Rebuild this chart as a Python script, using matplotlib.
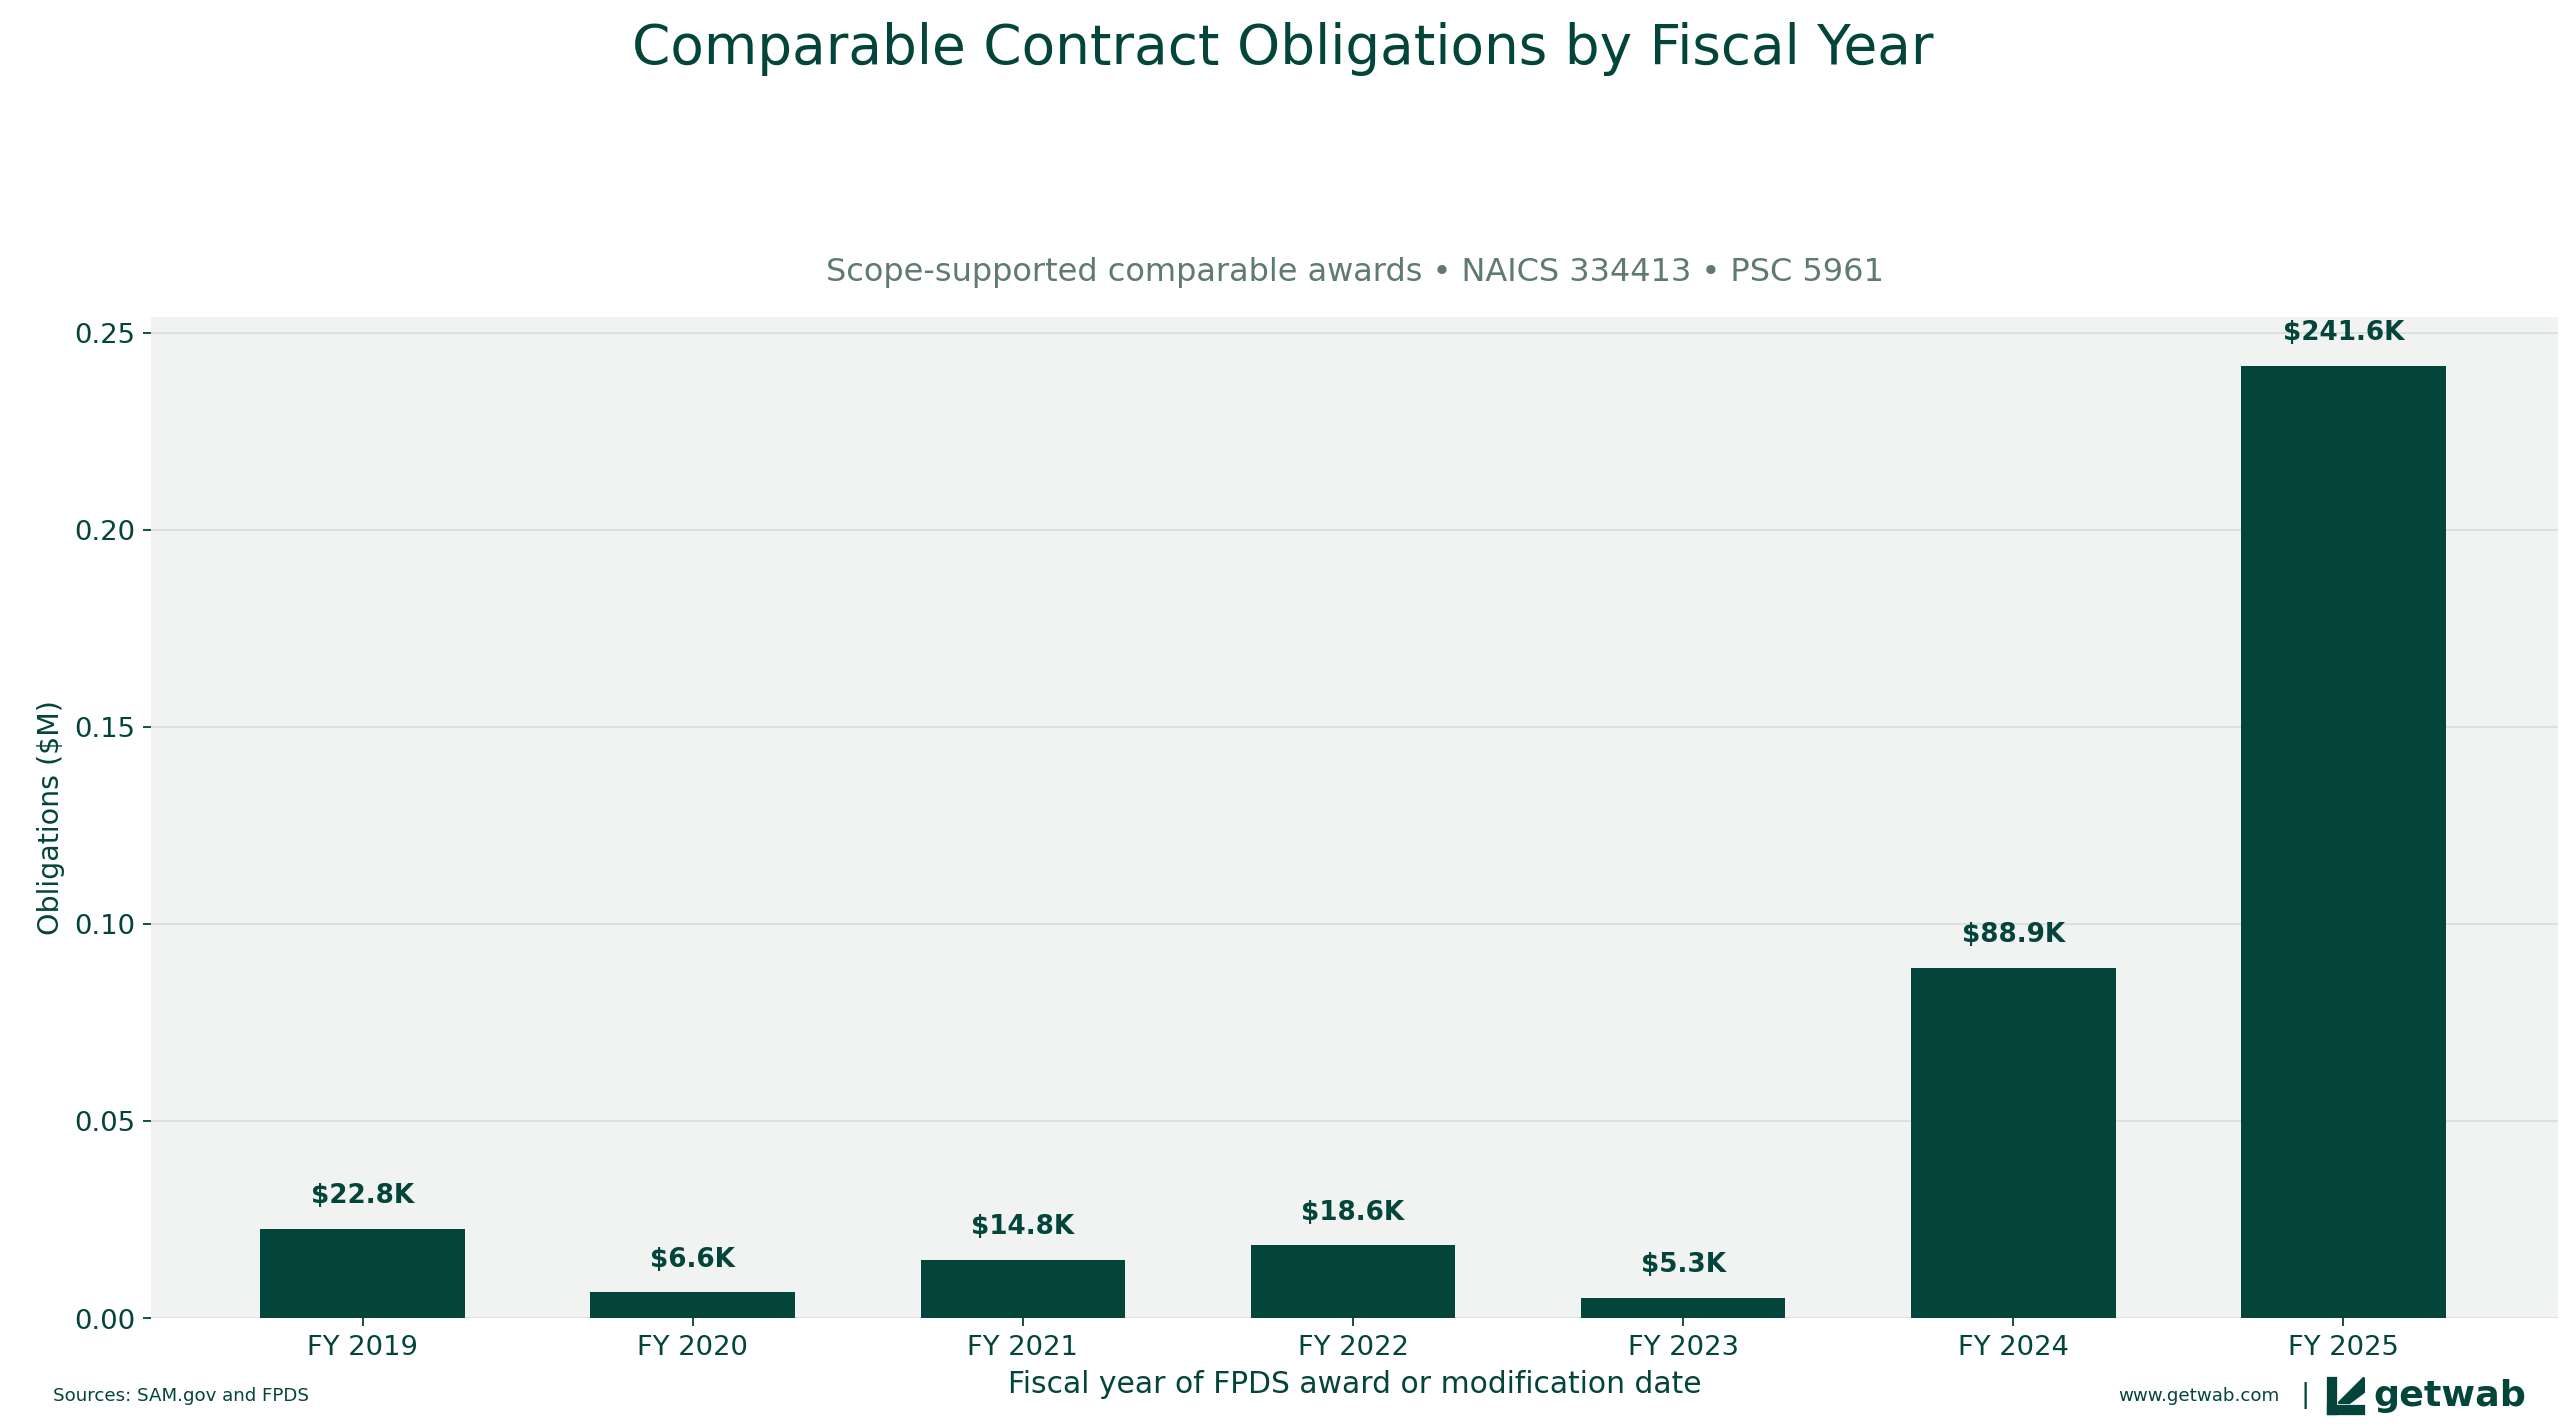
import matplotlib.pyplot as plt
from matplotlib.patches import Rectangle, Polygon

years = ["FY 2019", "FY 2020", "FY 2021", "FY 2022", "FY 2023", "FY 2024", "FY 2025"]
values_k = [22.8, 6.6, 14.8, 18.6, 5.3, 88.9, 241.6]

green = "#03453A"
W, H = 1560, 868
fig = plt.figure(figsize=(15.6, 8.675), dpi=164.5)
ax = fig.add_axes([92 / W, 1 - 802 / H, (1555 - 92) / W, (802 - 193) / H])
ax.set_facecolor("#F1F3F2")

vals_m = [v / 1000 for v in values_k]
ax.bar(years, vals_m, width=0.62, color=green, zorder=3)
for i, v in enumerate(values_k):
    ax.text(i, v / 1000 + 0.005, f"${v}K", ha="center", va="bottom",
            fontsize=11.5, fontweight="bold", color=green)

ax.set_ylim(0, 0.254)
ax.set_xlim(-0.64, 6.65)
ax.set_yticks([0, 0.05, 0.10, 0.15, 0.20, 0.25])
ax.yaxis.set_major_formatter(lambda x, p: f"{x:.2f}")
ax.grid(axis="y", color="#D5DEDA", linewidth=0.7, zorder=0)
for s in ax.spines.values():
    s.set_visible(False)
ax.tick_params(colors=green, labelsize=12)
ax.set_ylabel("Obligations ($M)", color=green, fontsize=12.5)
ax.set_xlabel("Fiscal year of FPDS award or modification date", color=green, fontsize=13)
ax.set_title("Scope-supported comparable awards • NAICS 334413 • PSC 5961",
             color="#5E7A72", fontsize=14, pad=16)

fig.text(0.5, 1 - 30 / H, "Comparable Contract Obligations by Fiscal Year",
         ha="center", va="center", fontsize=24, color=green)
fig.text(32 / W, 1 - 849 / H, "Sources: SAM.gov and FPDS", fontsize=8, color=green, va="center")
fig.text(1386 / W, 1 - 849 / H, "www.getwab.com", fontsize=8, color=green, va="center", ha="right")
fig.text(1401 / W, 1 - 849 / H, "|", fontsize=12, color=green, va="center", ha="center")

# simple logo mark
lx, ly, s = 1415 / W, 1 - 860 / H, 22 / H
sw = s * H / W
fig.patches.append(Rectangle((lx, ly), sw, s * 0.22, color=green, transform=fig.transFigure))
fig.patches.append(Rectangle((lx, ly), sw * 0.22, s, color=green, transform=fig.transFigure))
fig.patches.append(Polygon([(lx + sw * 0.3, ly + s * 0.3), (lx + sw, ly + s),
                            (lx + sw, ly + s * 0.6), (lx + sw * 0.6, ly + s * 0.3)],
                           color=green, transform=fig.transFigure))
fig.text(1443 / W, 1 - 849 / H, "getwab", fontsize=16, color=green, va="center",
         fontweight="bold")

fig.savefig("out.png", dpi=164.5)
